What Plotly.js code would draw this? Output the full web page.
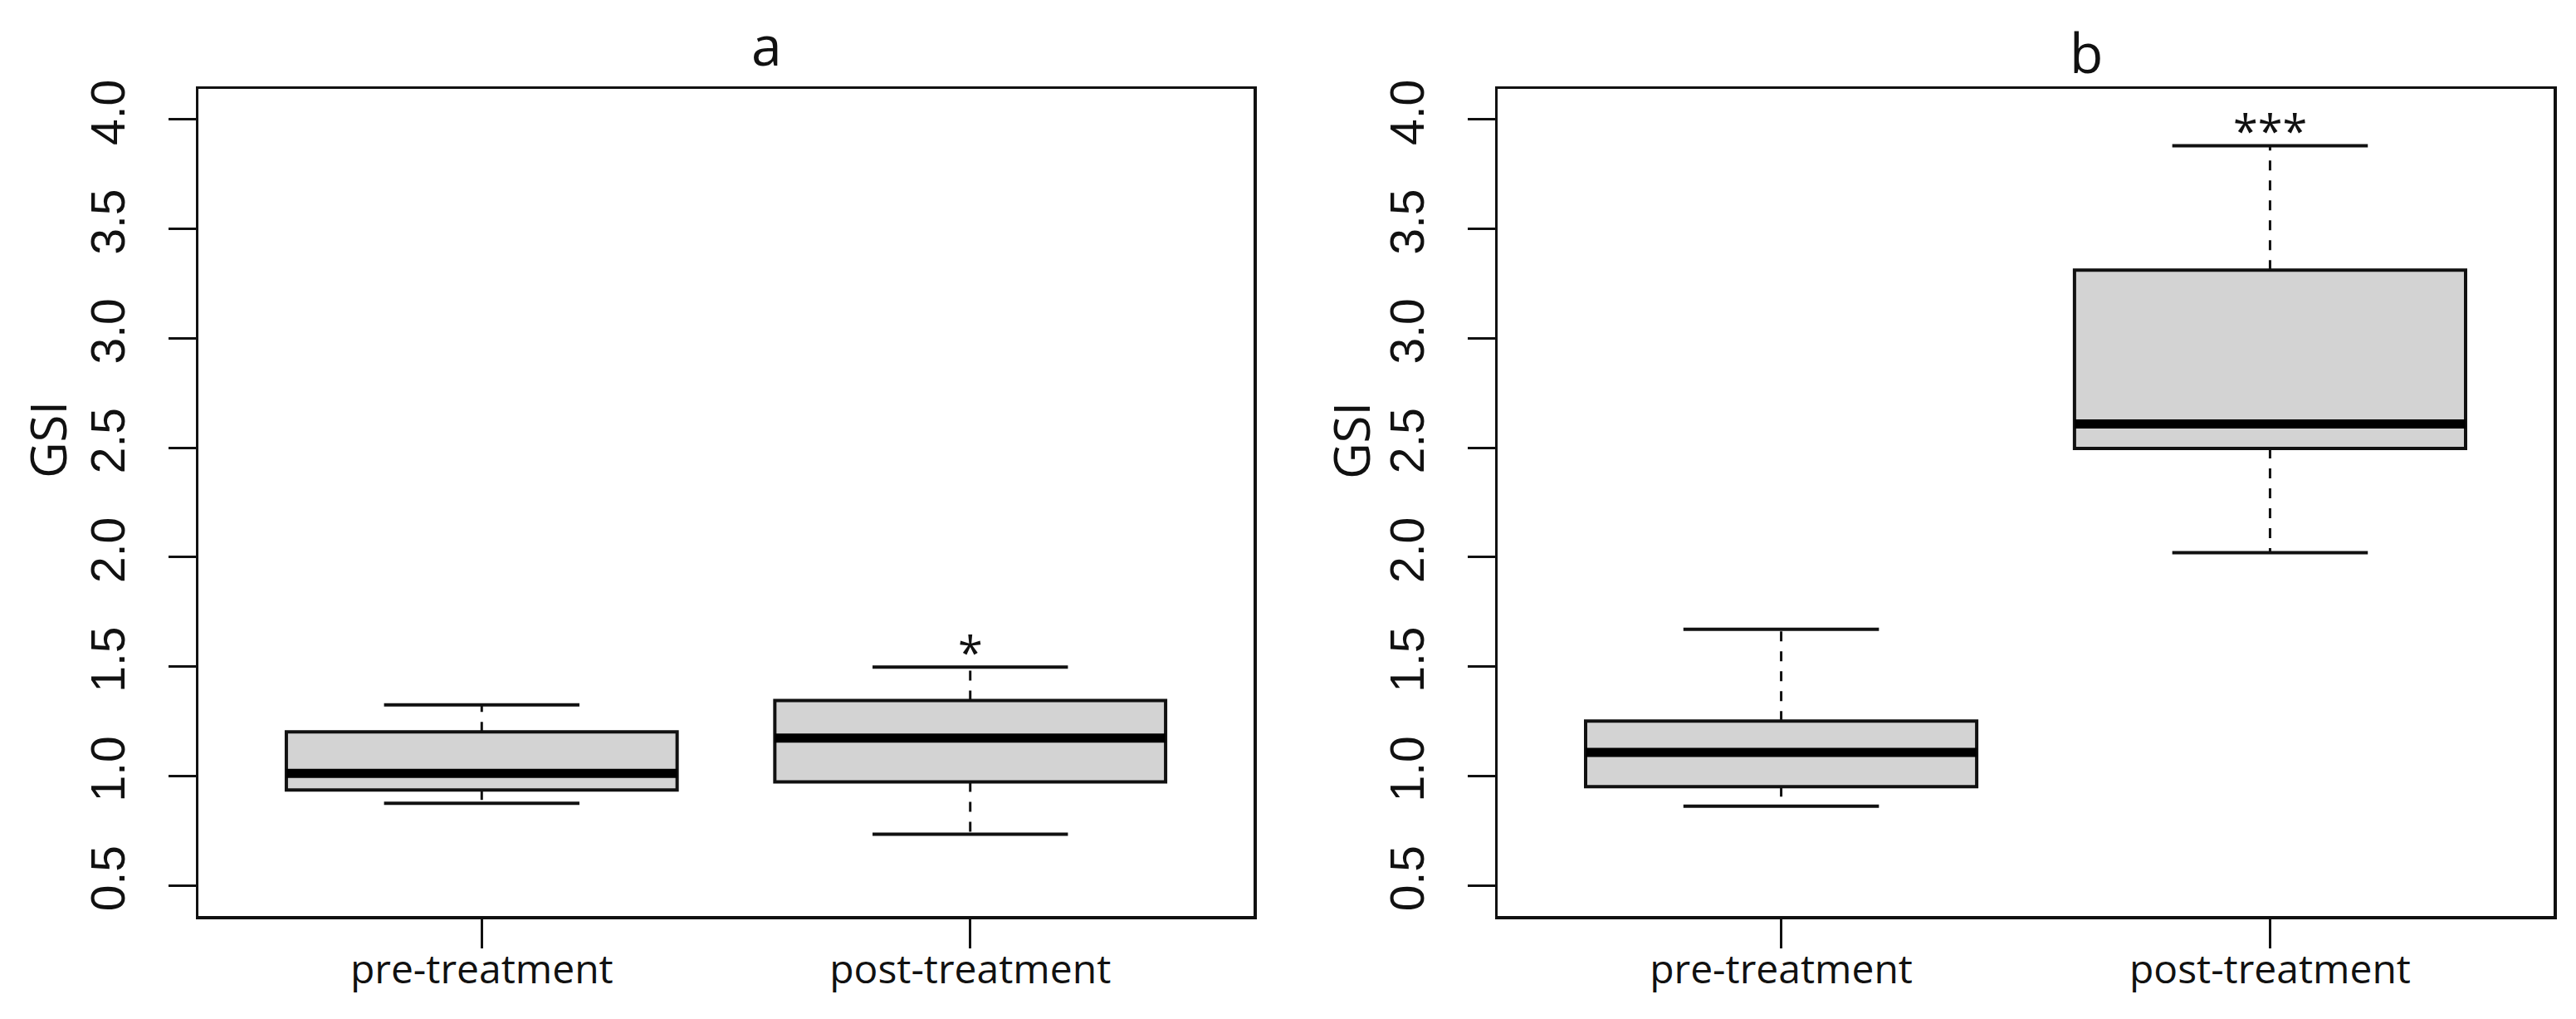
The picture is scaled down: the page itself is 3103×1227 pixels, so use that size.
<!DOCTYPE html>
<html>
<head>
<meta charset="utf-8">
<script src="https://cdn.plot.ly/plotly-3.0.1.min.js"></script>
<style>html,body{margin:0;padding:0;background:#fff;}#chart{width:3103px;height:1227px;}</style>
</head>
<body>
<div id="chart"></div>
<script>
// ---- data ----
const categories = ['pre-treatment', 'post-treatment'];
const positions = [1, 2];
const panelTitles = ['a', 'b'];
const yTickVals = [0.5, 1.0, 1.5, 2.0, 2.5, 3.0, 3.5, 4.0];
const yTickText = ['0.5', '1.0', '1.5', '2.0', '2.5', '3.0', '3.5', '4.0'];
const yLabel = 'GSI';

// panel a
const aLower  = [0.875, 0.734];
const aQ1     = [0.936, 0.973];
const aMedian = [1.012, 1.173];
const aQ3     = [1.202, 1.345];
const aUpper  = [1.325, 1.498];
const aSig    = ['', '*'];

// panel b
const bLower  = [0.862, 2.020];
const bQ1     = [0.951, 2.497];
const bMedian = [1.108, 2.609];
const bQ3     = [1.251, 3.312];
const bUpper  = [1.670, 3.880];
const bSig    = ['', '***'];

const panels = [
  {lower: aLower, q1: aQ1, med: aMedian, q3: aQ3, upper: aUpper, sig: aSig, title: panelTitles[0]},
  {lower: bLower, q1: bQ1, med: bMedian, q3: bQ3, upper: bUpper, sig: bSig, title: panelTitles[1]}
];

// ---- styling ----
const INK = '#111';
const FILL = '#d3d3d3';
const BOXW = 0.8, CAPW = 0.4;
const W = 3103, H = 1227;
const xDomains = [[239 / W, 1510 / W], [1804 / W, 3076 / W]];
const yDomain = [1 - 1103 / H, 1 - 107 / H];
const titlePos = [[924, 53], [2513, 62]];
const gsiX = [57, 1627];
const gsiY = 530;

const traces = [];
const annotations = [];

panels.forEach((p, i) => {
  const xa = i === 0 ? 'x' : 'x2';
  const ya = i === 0 ? 'y' : 'y2';
  positions.forEach((pos, k) => {
    // whiskers (dashed)
    traces.push({type: 'scatter', mode: 'lines', xaxis: xa, yaxis: ya,
      x: [pos, pos], y: [p.q3[k], p.upper[k]],
      line: {color: INK, width: 3, dash: '12px,12px'}, hoverinfo: 'skip', showlegend: false});
    traces.push({type: 'scatter', mode: 'lines', xaxis: xa, yaxis: ya,
      x: [pos, pos], y: [p.q1[k], p.lower[k]],
      line: {color: INK, width: 3, dash: '12px,12px'}, hoverinfo: 'skip', showlegend: false});
    // staples
    traces.push({type: 'scatter', mode: 'lines', xaxis: xa, yaxis: ya,
      x: [pos - CAPW / 2, pos + CAPW / 2], y: [p.upper[k], p.upper[k]],
      line: {color: INK, width: 4}, hoverinfo: 'skip', showlegend: false});
    traces.push({type: 'scatter', mode: 'lines', xaxis: xa, yaxis: ya,
      x: [pos - CAPW / 2, pos + CAPW / 2], y: [p.lower[k], p.lower[k]],
      line: {color: INK, width: 4}, hoverinfo: 'skip', showlegend: false});
  });
  // boxes
  traces.push({type: 'box', xaxis: xa, yaxis: ya, x: positions,
    q1: p.q1, median: p.med, q3: p.q3, lowerfence: p.q1, upperfence: p.q3,
    width: BOXW, whiskerwidth: 0, fillcolor: FILL,
    line: {color: INK, width: 4}, hoverinfo: 'skip', showlegend: false});
  // medians
  positions.forEach((pos, k) => {
    traces.push({type: 'scatter', mode: 'lines', xaxis: xa, yaxis: ya,
      x: [pos - BOXW / 2, pos + BOXW / 2], y: [p.med[k], p.med[k]],
      line: {color: '#000', width: 11}, hoverinfo: 'skip', showlegend: false});
    if (p.sig[k]) {
      annotations.push({xref: xa, yref: ya, x: pos, y: p.upper[k] + 0.1, text: p.sig[k],
        showarrow: false, yanchor: 'middle', yshift: -8,
        font: {family: 'Open Sans', size: 54, color: INK}});
    }
  });
  annotations.push({xref: 'paper', yref: 'paper', x: titlePos[i][0] / W, y: 1 - titlePos[i][1] / H,
    xanchor: 'center', yanchor: 'middle', text: p.title, showarrow: false,
    font: {family: 'Open Sans', size: 66, color: INK}});
  annotations.push({xref: 'paper', yref: 'paper', x: gsiX[i] / W, y: 1 - gsiY / H,
    xanchor: 'center', yanchor: 'middle', text: yLabel, textangle: -90, showarrow: false,
    font: {family: 'Open Sans', size: 60, color: INK}});
});

function xAxis(dom) {
  return {domain: dom, range: [0.42, 2.58], tickvals: positions, ticktext: categories,
    showline: true, mirror: true, linecolor: INK, linewidth: 3.5, zeroline: false, showgrid: false,
    ticks: 'outside', ticklen: 35, tickwidth: 3, tickcolor: INK, ticklabelstandoff: -15,
    tickfont: {family: 'Open Sans', size: 48, color: INK}, fixedrange: true};
}
function yAxis(anchor) {
  return {domain: yDomain, anchor: anchor, range: [0.36, 4.14], tickvals: yTickVals, ticktext: yTickText,
    showline: true, mirror: true, linecolor: INK, linewidth: 3.5, zeroline: false, showgrid: false,
    ticks: 'outside', ticklen: 33, tickwidth: 3, tickcolor: INK, tickangle: -90, ticklabelstandoff: 30,
    tickfont: {family: 'Liberation Sans', size: 57, color: INK}, fixedrange: true};
}

const layout = {
  width: W, height: H, margin: {l: 0, r: 0, t: 0, b: 0, autoexpand: false},
  paper_bgcolor: '#fff', plot_bgcolor: '#fff', showlegend: false,
  xaxis: Object.assign(xAxis(xDomains[0]), {anchor: 'y'}),
  yaxis: yAxis('x'),
  xaxis2: Object.assign(xAxis(xDomains[1]), {anchor: 'y2'}),
  yaxis2: yAxis('x2'),
  annotations: annotations
};

Plotly.newPlot('chart', traces, layout, {staticPlot: true, displayModeBar: false});
</script>
</body>
</html>
